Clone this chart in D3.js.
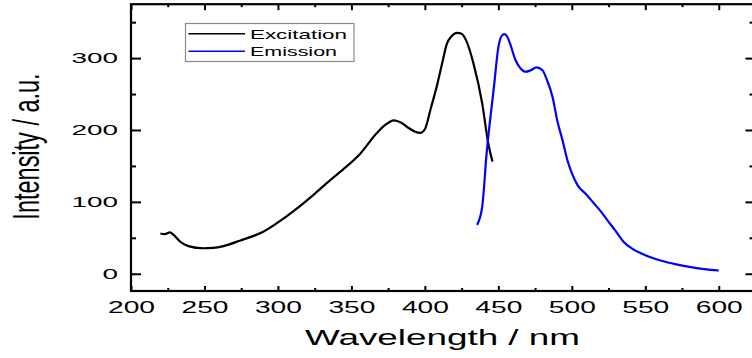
<!DOCTYPE html>
<html>
<head>
<meta charset="utf-8">
<script src="https://cdn.jsdelivr.net/npm/d3@7"></script>
<style>
  html, body { margin: 0; padding: 0; background: #fff; }
  svg { display: block; }
  text { font-family: "Liberation Sans", Arial, sans-serif; fill: #000; }
</style>
</head>
<body>
<svg id="chart" width="752" height="358"></svg>
<script>
// ---- data ----
const excitationWavelength = [220, 223, 226.5, 229, 233.5, 239, 249, 256, 263, 274, 290, 299, 313, 324, 336, 346, 356, 367, 373, 379, 384, 388, 393, 397, 400, 404, 408, 412, 415, 418, 422, 425, 428, 433, 439, 443, 446];
const excitationIntensity  = [56, 55, 57.5, 54, 44.5, 38.5, 35.5, 36, 38.5, 46, 58.5, 70, 91, 109.5, 131, 148, 167, 195, 207, 213.5, 210, 204, 198, 196, 201, 230, 260, 295, 320, 330, 335, 334, 325, 293, 237, 183, 156];

const emissionWavelength = [435.5, 439, 442, 447, 450, 452, 454, 456, 458, 461.5, 465, 468.5, 472, 476, 480, 483, 487, 490, 494, 497, 500, 504, 510, 515, 520, 524, 530, 535, 541, 547, 555, 561, 571, 580, 590, 600];
const emissionIntensity  = [68, 93, 167, 260, 315, 330, 333.5, 330, 320, 298, 286, 281, 283, 287, 283, 270, 245, 214, 183, 158, 140, 123, 110, 98, 86, 75, 59, 45, 35, 28.5, 22, 18, 13, 9.5, 6.5, 4.5];

const xMajorTicks = [200, 250, 300, 350, 400, 450, 500, 550, 600];
const xMinorTicks = [225, 275, 325, 375, 425, 475, 525, 575];
const yMajorTicks = [0, 100, 200, 300];
const yMinorTicks = [50, 150, 250, 350];

const seriesNames = ["Excitation", "Emission"];
const seriesColors = ["#000000", "#0000ff"];
const xTitle = "Wavelength / nm";
const yTitle = "Intensity / a.u.";

// ---- layout ----
const svg = d3.select("#chart");
const mLeft = 131, mRight = 755.5, mTop = 4.2, mBottom = 291;

const x = d3.scaleLinear().domain([200, 625]).range([mLeft, mRight]);
const y = d3.scaleLinear().domain([-24, 375]).range([mBottom, mTop]);

const excitation = excitationWavelength.map((w, i) => [w, excitationIntensity[i]]);
const emission = emissionWavelength.map((w, i) => [w, emissionIntensity[i]]);

const line = d3.line().x(d => x(d[0])).y(d => y(d[1])).curve(d3.curveMonotoneX);

// curves
svg.append("path").datum(excitation)
  .attr("d", line).attr("fill", "none")
  .attr("stroke", seriesColors[0]).attr("stroke-width", 2.2).attr("stroke-linejoin", "round");
svg.append("path").datum(emission)
  .attr("d", line).attr("fill", "none")
  .attr("stroke", seriesColors[1]).attr("stroke-width", 2.2).attr("stroke-linejoin", "round");

// axes
function styleAxis(g) {
  g.select(".domain").remove();
  g.selectAll(".tick line").attr("stroke", "#000").attr("stroke-width", 2);
}

// bottom
svg.append("g").attr("transform", `translate(0,${mBottom})`)
  .call(d3.axisBottom(x).tickValues(xMajorTicks).tickSize(-5).tickPadding(10).tickFormat(d3.format("d")))
  .call(styleAxis)
  .call(g => g.selectAll("text")
    .attr("font-size", 17)
    .attr("textLength", 47).attr("lengthAdjust", "spacingAndGlyphs"));
svg.append("g").attr("transform", `translate(0,${mBottom})`)
  .call(d3.axisBottom(x).tickValues(xMinorTicks).tickSize(-3).tickFormat(""))
  .call(styleAxis);

// top
svg.append("g").attr("transform", `translate(0,${mTop})`)
  .call(d3.axisTop(x).tickValues(xMajorTicks).tickSize(-6).tickFormat(""))
  .call(styleAxis);
svg.append("g").attr("transform", `translate(0,${mTop})`)
  .call(d3.axisTop(x).tickValues(xMinorTicks).tickSize(-3).tickFormat(""))
  .call(styleAxis);

// left
svg.append("g").attr("transform", `translate(${mLeft},0)`)
  .call(d3.axisLeft(y).tickValues(yMajorTicks).tickSize(-10).tickPadding(13).tickFormat(d3.format("d")))
  .call(styleAxis)
  .call(g => g.selectAll("text")
    .attr("font-size", 15)
    .attr("textLength", d => String(d).length * 15.5)
    .attr("lengthAdjust", "spacingAndGlyphs"));
svg.append("g").attr("transform", `translate(${mLeft},0)`)
  .call(d3.axisLeft(y).tickValues(yMinorTicks).tickSize(-5).tickFormat(""))
  .call(styleAxis);

// right
svg.append("g").attr("transform", `translate(${mRight},0)`)
  .call(d3.axisRight(y).tickValues(yMajorTicks).tickSize(-10).tickFormat(""))
  .call(styleAxis);
svg.append("g").attr("transform", `translate(${mRight},0)`)
  .call(d3.axisRight(y).tickValues(yMinorTicks).tickSize(-6).tickFormat(""))
  .call(styleAxis);

// frame
svg.append("rect")
  .attr("x", mLeft).attr("y", mTop)
  .attr("width", mRight - mLeft).attr("height", mBottom - mTop)
  .attr("fill", "none").attr("stroke", "#000").attr("stroke-width", 2.2);

// axis titles
svg.append("text")
  .attr("x", 442.5).attr("y", 345)
  .attr("text-anchor", "middle")
  .attr("font-size", 22)
  .attr("textLength", 275).attr("lengthAdjust", "spacingAndGlyphs")
  .text(xTitle);

svg.append("text")
  .attr("transform", "translate(39,146.5) scale(1.6,1) rotate(-90)")
  .attr("text-anchor", "middle")
  .attr("font-size", 23.5)
  .text(yTitle);

// legend
const legend = svg.append("g");
legend.append("rect")
  .attr("x", 185.5).attr("y", 23.5).attr("width", 168.5).attr("height", 38)
  .attr("fill", "#fff").attr("stroke", "#8a8a8a").attr("stroke-width", 1.2);
const legendY = [33.7, 51.3];
const legendLen = [97, 87];
seriesNames.forEach((name, i) => {
  legend.append("line")
    .attr("x1", 188.5).attr("x2", 245).attr("y1", legendY[i]).attr("y2", legendY[i])
    .attr("stroke", seriesColors[i]).attr("stroke-width", 1.6);
  legend.append("text")
    .attr("x", 250).attr("y", legendY[i] + 4.8)
    .attr("font-size", 13)
    .attr("textLength", legendLen[i]).attr("lengthAdjust", "spacingAndGlyphs")
    .text(name);
});
</script>
</body>
</html>
